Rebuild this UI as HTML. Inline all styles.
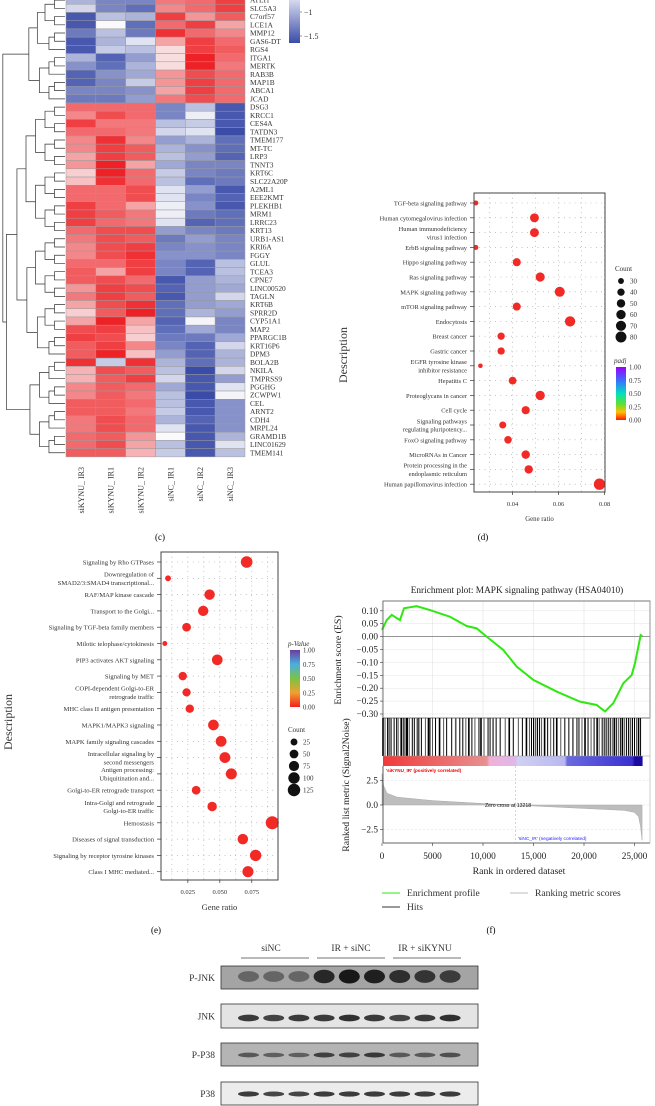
<!DOCTYPE html>
<html><head><meta charset="utf-8">
<style>
html,body{margin:0;padding:0;background:#fff;}
svg{display:block;font-family:"Liberation Serif",serif;}
</style></head>
<body>
<svg id="fig" width="655" height="1106" viewBox="0 0 655 1106" xmlns="http://www.w3.org/2000/svg">
<defs>
<linearGradient id="hmbar" x1="0" y1="0" x2="0" y2="1"><stop offset="0" stop-color="#d6d9ee"/><stop offset="1" stop-color="#3a4ca8"/></linearGradient>
<linearGradient id="padjGrad" x1="0" y1="0" x2="0" y2="1"><stop offset="0" stop-color="#9a00ff"/><stop offset="0.25" stop-color="#3d6cff"/><stop offset="0.5" stop-color="#00e0c0"/><stop offset="0.7" stop-color="#60e030"/><stop offset="0.85" stop-color="#ffc000"/><stop offset="1" stop-color="#ff1a00"/></linearGradient>
<linearGradient id="pvalGrad" x1="0" y1="0" x2="0" y2="1"><stop offset="0" stop-color="#6a3d9a"/><stop offset="0.25" stop-color="#4aaee0"/><stop offset="0.5" stop-color="#7cc242"/><stop offset="0.75" stop-color="#f0a030"/><stop offset="1" stop-color="#f42020"/></linearGradient>
<linearGradient id="rankbar" x1="0" y1="0" x2="1" y2="0"><stop offset="0" stop-color="#f03a3a"/><stop offset="0.4" stop-color="#e89090"/><stop offset="0.41" stop-color="#f0b0d8"/><stop offset="0.51" stop-color="#e0b8e8"/><stop offset="0.52" stop-color="#d0d0f4"/><stop offset="0.7" stop-color="#b8b8f0"/><stop offset="0.71" stop-color="#6a6ae0"/><stop offset="0.96" stop-color="#3a30d0"/><stop offset="0.97" stop-color="#1a0aa0"/><stop offset="1" stop-color="#1a0aa0"/></linearGradient>
</defs>

<g>
<rect x="289" y="0" width="11" height="43" fill="url(#hmbar)"/>
<line x1="300" y1="12" x2="302" y2="12" stroke="#555" stroke-width="0.6"/>
<line x1="300" y1="36" x2="302" y2="36" stroke="#555" stroke-width="0.6"/>
<text x="304" y="15" font-size="8" fill="#333">−1</text>
<text x="304" y="39" font-size="8" fill="#333">−1.5</text>
</g>
<g id="heatmap"></g>
<g id="dendro" stroke="#333" stroke-width="0.7" fill="none"></g>
<text x="160" y="540" font-size="9" text-anchor="middle">(c)</text>

<g id="panelD"></g>
<text x="483" y="540" font-size="9" text-anchor="middle">(d)</text>

<g id="panelE"></g>
<text x="156" y="933" font-size="9" text-anchor="middle">(e)</text>

<g id="panelF"></g>
<text x="491" y="933" font-size="9" text-anchor="middle">(f)</text>

<g id="blot"></g>
</svg>
<script>
const NS="http://www.w3.org/2000/svg";
function mk(tag,attrs,parent,txt){const e=document.createElementNS(NS,tag);for(const k in attrs)e.setAttribute(k,attrs[k]);if(txt!==undefined)e.textContent=txt;parent.appendChild(e);return e;}

const hmGenes=["ATLI1","SLC5A3","C7orf57","LCE1A","MMP12","GAS6-DT","RGS4","ITGA1","MERTK","RAB3B","MAP1B","ABCA1","JCAD","DSG3","KRCC1","CES4A","TATDN3","TMEM177","MT-TC","LRP3","TNNT3","KRT6C","SLC22A20P","A2ML1","EEE2KMT","PLEKHB1","MRM1","LRRC23","KRT13","URB1-AS1","KRI6A","FGGY","GLUL","TCEA3","CPNE7","LINC00520","TAGLN","KRT6B","SPRR2D","CYP51A1","MAP2","PPARGC1B","KRT16P6","DPM3","BOLA2B","NKILA","TMPRSS9","PGGHG","ZCWPW1","CEL","ARNT2","CDH4","MRPL24","GRAMD1B","LINC01629","TMEM141"];
const hmSamples=["siKYNU_ IR3","siKYNU_ IR1","siKYNU_ IR2","siNC_ IR1","siNC_ IR2","siNC_ IR3"];
const hmValues=[
[-0.6,-1.0,-1.0,0.9,1.0,1.3],[-0.3,-1.0,-1.2,0.8,1.0,1.3],[-1.4,-0.5,-0.6,1.3,0.7,1.1],[-1.4,0,-1.2,1.0,1.3,0.6],
[-1.1,-0.5,-1.1,1.4,1.0,0.8],[-1.4,-0.6,-0.2,0.6,1.3,1.0],[-1.4,-0.4,-0.5,0.2,1.3,1.1],[-0.6,-1.3,-0.8,0.2,1.5,1.0],
[-0.9,-1.2,-0.6,0.2,1.5,0.9],[-1.3,-0.9,-0.7,0.7,1.2,1.0],[-1.3,-1.0,-0.4,0.7,1.3,1.0],[-1.0,-1.0,-0.9,0.6,1.3,1.0],
[-1.1,-1.1,-0.8,0.9,1.2,1.0],[1.0,1.0,1.0,-1.0,-0.5,-1.4],[0.8,1.2,1.0,-1.0,-0.1,-1.4],[1.3,0.9,0.9,-0.5,-0.4,-1.4],
[1.0,1.0,0.9,-0.3,-0.2,-1.5],[0.8,1.4,0.8,-0.8,-0.6,-1.2],[0.8,1.3,1.1,-0.6,-0.9,-1.2],[0.6,1.3,1.1,-0.5,-0.8,-1.3],
[0.7,1.5,0.6,-0.7,-1.0,-1.0],[0.3,1.5,1.0,-0.4,-1.0,-1.1],[0.4,1.4,1.0,-0.5,-1.2,-1.1],[1.0,1.0,1.2,-0.2,-0.8,-1.4],
[1.0,1.0,1.2,-0.2,-1.0,-1.3],[1.3,1.0,0.6,-0.1,-0.9,-1.4],[1.3,1.1,0.9,-0.1,-1.1,-1.2],[1.3,1.0,0.9,-0.2,-1.3,-1.2],
[1.0,1.2,1.2,-0.8,-1.0,-1.1],[0.9,1.2,1.1,-1.1,-0.8,-1.0],[0.8,1.2,1.3,-1.0,-0.9,-1.0],[0.8,1.2,1.4,-0.9,-0.9,-1.0],
[1.0,1.0,1.3,-1.0,-1.3,-0.5],[1.1,0.6,1.3,-1.0,-1.3,-0.5],[1.1,1.2,1.0,-1.4,-0.8,-0.6],[0.7,1.3,1.2,-1.3,-0.8,-0.7],
[0.9,1.3,1.1,-1.4,-0.8,-0.3],[0.6,1.2,1.4,-1.2,-0.8,-0.7],[0.3,1.1,1.5,-1.2,-0.6,-0.8],[0.6,1.5,0.6,-1.3,-0.05,-1.0],
[1.2,1.3,0.4,-1.2,-0.7,-1.0],[1.3,1.2,0.3,-1.1,-1.1,-0.7],[1.1,1.3,0.8,-1.0,-1.3,-0.3],[1.1,1.5,0.4,-0.8,-1.3,-0.6],
[1.4,-0.4,1.4,-0.6,-1.2,-0.6],[0.5,1.2,1.1,-0.5,-1.5,-0.3],[0.5,1.1,1.3,-0.3,-1.4,-0.8],[0.8,1.1,1.0,-0.7,-1.4,-0.2],
[0.8,1.1,0.9,-0.5,-1.5,-0.05],[1.1,1.1,1.0,-0.5,-1.4,-0.9],[1.1,1.1,0.9,-0.4,-1.4,-0.9],[0.9,1.2,1.0,-0.6,-1.3,-0.9],
[0.9,1.2,1.0,-0.2,-1.4,-0.9],[1.0,1.1,0.7,0.0,-1.4,-0.6],[1.0,1.2,0.6,-0.5,-1.4,-0.2],[1.1,1.1,0.5,-0.4,-1.4,-0.5]];

const dTerms=[["TGF-beta signaling pathway"],["Human cytomegalovirus infection"],["Human immunodeficiency","virus1 infection"],["ErbB signaling pathway"],["Hippo signaling pathway"],["Ras signaling pathway"],["MAPK signaling pathway"],["mTOR signaling pathway"],["Endocytosis"],["Breast cancer"],["Gastric cancer"],["EGFR tyrosine kinase","inhibitor resistance"],["Hepatitis C"],["Proteoglycans in cancer"],["Cell cycle"],["Signaling pathways","regulating pluripotency..."],["FoxO signaling pathway"],["MicroRNAs in Cancer"],["Protein processing in the","endoplasmic reticulum"],["Human papillomavirus infection"]];
const dRatio=[0.024,0.0495,0.0495,0.024,0.0418,0.052,0.0605,0.0418,0.065,0.035,0.035,0.026,0.040,0.052,0.0457,0.0357,0.038,0.0457,0.047,0.0778];
const dCount=[26,55,55,26,47,58,68,47,72,40,40,24,44,60,48,38,42,50,50,86];
const dTicks=[0.04,0.06,0.08];
const dCountLegend=[30,40,50,60,70,80];
const dPadjLabels=["1.00","0.75","0.50","0.25","0.00"];

const eTerms=[["Signaling by Rho GTPases"],["Downregulation of","SMAD2/3:SMAD4 transcriptional..."],["RAF/MAP kinase cascade"],["Transport to the Golgi..."],["Signaling by TGF-beta family members"],["Milotic telophase/cytokinesis"],["PIP3 activates AKT signaling"],["Signaling by MET"],["COPI-dependent Golgi-to-ER","retrograde traffic"],["MHC class II antigen presentation"],["MAPK1/MAPK3 signaling"],["MAPK family signaling cascades"],["Intracellular signaling by","second messengers"],["Antigen processing:","Ubiquitination and..."],["Golgi-to-ER retrograde transport"],["Intra-Golgi and retrograde","Golgi-to-ER traffic"],["Hemostasis"],["Diseases of signal transduction"],["Signaling by receptor tyrosine kinases"],["Class I MHC mediated..."]];
const eRatio=[0.071,0.0095,0.042,0.037,0.024,0.007,0.048,0.021,0.024,0.0265,0.045,0.051,0.054,0.059,0.0315,0.044,0.091,0.068,0.078,0.072];
const eCount=[105,15,80,78,50,8,85,45,42,45,85,88,88,92,50,62,140,82,100,92];
const eTicks=[0.025,0.050,0.075];
const eCountLegend=[25,50,75,100,125];
const ePvalLabels=["1.00","0.75","0.50","0.25","0.00"];

const esRank=[0,465,960,1780,2180,3430,4750,6730,8380,9370,10360,12010,13330,14980,17290,19600,21250,22080,22900,23890,24720,25050,25380,25610,25780];
const esScore=[0.026,0.064,0.084,0.064,0.11,0.118,0.103,0.077,0.041,0.032,0.0,-0.052,-0.116,-0.168,-0.213,-0.252,-0.265,-0.29,-0.258,-0.181,-0.149,-0.103,-0.039,0.006,0.002];
const esTicks=[0.10,0.05,0.00,-0.05,-0.10,-0.15,-0.20,-0.25,-0.30];
const hitRanks=[100,300,550,700,900,1200,1450,1600,1900,2100,2250,2400,2500,2700,3000,3200,3500,3650,3900,4300,4600,4750,5000,5300,5700,6100,6400,6900,7300,7700,8000,8300,8600,8900,9200,9600,9800,10100,10500,10700,11000,11300,11700,12200,12600,13000,13500,13900,14300,14600,14800,15000,15200,15400,15600,15800,16100,16400,16700,17000,17300,17700,18100,18500,18900,19300,19500,19800,20100,20400,20700,21000,21300,21500,21800,22000,22200,22400,22600,22800,23000,23200,23400,23600,23800,24000,24200,24400,24600,24800,25000,25200,25400,25600];
const rmRank=[0,150,500,1500,5000,10000,13218,16000,20000,24000,25000,25400,25600,25750];
const rmValue=[3.2,2.0,1.2,0.8,0.45,0.15,0,-0.15,-0.35,-0.55,-0.75,-1.2,-2.2,-3.6];
const rankTicks=[0,5000,10000,15000,20000,25000];
const rankTickLabels=["0","5000","10,000","15,000","20,000","25,000"];
const rmTicks=[2.5,0.0,-2.5];

const blotGroups=["siNC","IR + siNC","IR + siKYNU"];
const blotRows=["P-JNK","JNK","P-P38","P38"];
const blotIntensity=[
[0.45,0.45,0.45,0.9,1.0,0.95,0.85,0.8,0.75],
[0.85,0.8,0.85,0.85,0.9,0.85,0.8,0.85,0.9],
[0.6,0.55,0.55,0.75,0.75,0.8,0.6,0.6,0.65],
[0.85,0.8,0.8,0.85,0.85,0.85,0.85,0.85,0.85]];

(function(){
const g=document.getElementById("heatmap");
const x0=66,cw=29.83,rowH=8.23,y0=0.1-rowH/2;
const cx=j=>x0+j*cw, ry=i=>y0+i*rowH;
function col(v){
 const t=Math.max(-1,Math.min(1,v/1.5));
 const lo=[58,76,168],mid=[250,250,252],hi=[238,34,38];
 const a=t<0?lo:hi, f=Math.abs(t);
 const c=mid.map((m,k)=>Math.round(m+(a[k]-m)*f));
 return `rgb(${c[0]},${c[1]},${c[2]})`;
}
hmValues.forEach((row,i)=>{
 row.forEach((v,j)=>{
  const r=mk("rect",{x:cx(j),y:ry(i),width:cw,height:rowH,fill:col(v),stroke:"#9a9a9a","stroke-width":0.5},g);
  
  
 });
 const t=mk("text",{x:250,y:ry(i)+rowH/2+2.6,"font-size":7.4,fill:"#333"},g,hmGenes[i]);
 
 
});
hmSamples.forEach((s,j)=>{
 const xx=cx(j)+cw/2+3;
 const t=mk("text",{x:xx,y:467,"font-size":8,fill:"#333","text-anchor":"end",transform:`rotate(-90 ${xx} 467)`},g,s);
 
 
});
const d=document.getElementById("dendro");
const centers=i=>ry(i)+rowH/2;
function tree(lo,hi){
 if(lo===hi) return [65,centers(lo)];
 let mid;
 if(lo===0&&hi===55) mid=12; else if(lo===13&&hi===55) mid=43; else mid=Math.floor((lo+hi)/2);
 const a=tree(lo,mid), b=tree(mid+1,hi);
 const n=hi-lo+1;
 const x=Math.max(2,64-9.5*Math.log2(n)-(n>40?6:0));
 mk("path",{d:`M${a[0]},${a[1]}H${x}V${b[1]}H${b[0]}`},d);
 return [x,(a[1]+b[1])/2];
}
tree(0,55);
})();

function dotPlot(opt){
 const g=document.getElementById(opt.id);
 const {L,R,T,B,dom,terms,ratio,count,rowY,rScale}=opt;
 const xs=v=>L+(v-dom[0])/(dom[1]-dom[0])*(R-L);
 for(let v=opt.gridStart;v<=dom[1]+1e-9;v+=opt.gridStep){
  mk("line",{x1:xs(v),y1:T,x2:xs(v),y2:B,stroke:"#888","stroke-width":0.6,"stroke-dasharray":"0.8 4"},g);
 }
 terms.forEach((lines,i)=>{
  const y=rowY(i);
  mk("line",{x1:L,y1:y,x2:R,y2:y,stroke:"#888","stroke-width":0.6,"stroke-dasharray":"0.8 4.5"},g);
  mk("line",{x1:L-4,y1:y,x2:L,y2:y,stroke:"#333","stroke-width":0.7},g);
  lines.forEach((ln,k)=>{
   const yy=y+2.5+(k-(lines.length-1)/2)*8.4;
   const t=mk("text",{x:L-7,y:yy,"font-size":opt.fs,fill:"#333","text-anchor":"end"},g,ln);
   
   
  });
  const c=mk("circle",{cx:xs(ratio[i]),cy:y,r:rScale(count[i]),fill:"#f22a26"},g);
  
  
 });
 mk("rect",{x:L,y:T,width:R-L,height:B-T,fill:"none",stroke:"#444","stroke-width":1},g);
 opt.ticks.forEach((v,i)=>{
  mk("line",{x1:xs(v),y1:B,x2:xs(v),y2:B+3,stroke:"#333","stroke-width":0.7},g);
  const t=mk("text",{x:xs(v),y:B+14,"font-size":6.5,fill:"#333","text-anchor":"middle"},g,opt.tickLabels[i]);
  
  
 });
 const xt=mk("text",{x:(L+R)/2,y:opt.xTitleY,"font-size":opt.titleFs,fill:"#333","text-anchor":"middle"},g,"Gene ratio");
 
 
 const yt=mk("text",{x:opt.yTitleX,y:opt.yTitleY,"font-size":12,fill:"#333","text-anchor":"middle",transform:`rotate(-90 ${opt.yTitleX} ${opt.yTitleY})`},g,"Description");
 
 
 const ct=mk("text",{x:opt.countX-6,y:opt.countY,"font-size":7,fill:"#333"},g,"Count");
 
 
 opt.countLegend.forEach((c,i)=>{
  const y=opt.countY+10+i*opt.countStep;
  mk("circle",{cx:opt.countX,cy:y,r:rScale(c),fill:"#111"},g);
  const t=mk("text",{x:opt.countX+9,y:y+2.5,"font-size":7,fill:"#333"},g,String(c));
  
  
 });
 const cb=opt.cbar;
 const ht=mk("text",{x:cb.x-2,y:cb.y-4,"font-size":7,fill:"#333","font-style":"italic"},g,cb.title);
 
 
 mk("rect",{x:cb.x,y:cb.y,width:10,height:cb.h,fill:`url(#${cb.grad})`},g);
 cb.labels.forEach((lb,i)=>{
  const y=cb.y+i*cb.h/(cb.labels.length-1);
  const t=mk("text",{x:cb.x+13,y:y+2.5,"font-size":6.8,fill:"#333"},g,lb);
  
  
 });
}

dotPlot({id:"panelD",L:474,R:605,T:193,B:492,dom:[0.0232,0.0802],terms:dTerms,ratio:dRatio,count:dCount,
 rowY:i=>203+i*14.8,rScale:c=>1.2+Math.sqrt(Math.max(0,c-20))*0.55,gridStart:0.03,gridStep:0.01,
 ticks:dTicks,tickLabels:["0.04","0.06","0.08"],fs:6.4,titleFs:6.8,xTitleY:521,yTitleX:347,yTitleY:355,
 countX:621,countY:271,countStep:11.2,countLegend:dCountLegend,
 cbar:{x:616,y:367,h:53,grad:"padjGrad",title:"padj",labels:dPadjLabels}});

dotPlot({id:"panelE",L:161,R:278,T:552,B:880,dom:[0.004,0.0955],terms:eTerms,ratio:eRatio,count:eCount,
 rowY:i=>562+i*16.3,rScale:c=>1.2+Math.sqrt(c)*0.45,gridStart:0.0125,gridStep:0.0125,
 ticks:eTicks,tickLabels:["0.025","0.050","0.075"],fs:6.6,titleFs:8.5,xTitleY:910,yTitleX:12,yTitleY:722,
 countX:294,countY:732,countStep:12,countLegend:eCountLegend,
 cbar:{x:290,y:650,h:57,grad:"pvalGrad",title:"p-Value",labels:ePvalLabels}});

(function(){
const g=document.getElementById("panelF");
const L=383,R=650;
const xs=r=>382+r*0.0101;
const yES=v=>636.6-v/0.003876;
const yRM=v=>805-v*9.8;
mk("text",{x:517,y:593,"font-size":9.3,fill:"#222","text-anchor":"middle"},g,"Enrichment plot: MAPK signaling pathway (HSA04010)");
rankTicks.forEach(r=>{mk("line",{x1:xs(r),y1:601,x2:xs(r),y2:718,stroke:"#ddd","stroke-width":0.5},g);});
esTicks.forEach(v=>{
 mk("line",{x1:L,y1:yES(v),x2:R,y2:yES(v),stroke:"#e4e4e4","stroke-width":0.5},g);
 mk("line",{x1:L-3,y1:yES(v),x2:L,y2:yES(v),stroke:"#333","stroke-width":0.6},g);
 const t=mk("text",{x:L-5,y:yES(v)+3,"font-size":9.3,fill:"#222","text-anchor":"end"},g,(v<0?"−":"")+Math.abs(v).toFixed(2));
 
 
});
mk("line",{x1:L,y1:yES(0),x2:R,y2:yES(0),stroke:"#777","stroke-width":0.8},g);
const es=mk("polyline",{points:esRank.map((r,i)=>xs(r)+","+yES(esScore[i])).join(" "),fill:"none",stroke:"#2ee810","stroke-width":2},g);


mk("rect",{x:L,y:601,width:R-L,height:117,fill:"none",stroke:"#555","stroke-width":0.8},g);
const hg=mk("g",{},g);


hitRanks.forEach((r,i)=>{
 const ln=mk("line",{x1:xs(r),y1:718,x2:xs(r),y2:756,stroke:i%3===1?"#555":"#000","stroke-width":i%4===0?1.6:1},hg);
 
 
});
const rb=mk("rect",{x:L,y:756,width:xs(25800)-L,height:10,fill:"url(#rankbar)"},g);


mk("line",{x1:L,y1:756,x2:R,y2:756,stroke:"#999","stroke-width":0.5},g);
mk("text",{x:386,y:772,"font-size":4.6,fill:"#e00","font-family":"Liberation Sans, sans-serif","font-weight":"bold"},g,"'siKYNU_IR' (positively correlated)");
rmTicks.forEach(v=>{mk("line",{x1:L,y1:yRM(v),x2:R,y2:yRM(v),stroke:"#ddd","stroke-width":0.6,"stroke-dasharray":"2 2"},g);});
mk("line",{x1:xs(13218),y1:766,x2:xs(13218),y2:843,stroke:"#bbb","stroke-width":0.6,"stroke-dasharray":"2 2"},g);
const area="M"+xs(rmRank[0])+","+yRM(0)+" "+rmRank.map((r,i)=>"L"+xs(r)+","+yRM(rmValue[i])).join(" ")+" L"+xs(rmRank[rmRank.length-1])+","+yRM(0)+"Z";
const ar=mk("path",{d:area,fill:"#bdbdbd",stroke:"#aaa","stroke-width":0.5},g);


mk("text",{x:485,y:807,"font-size":5.2,fill:"#111","font-family":"Liberation Sans, sans-serif"},g,"Zero cross at 13218");
mk("text",{x:518,y:840,"font-size":4.8,fill:"#22f","font-family":"Liberation Sans, sans-serif"},g,"'siNC_IR' (negatively correlated)");
mk("line",{x1:L,y1:766,x2:L,y2:843,stroke:"#333","stroke-width":0.8},g);
mk("line",{x1:L,y1:843,x2:R,y2:843,stroke:"#333","stroke-width":0.8},g);
mk("line",{x1:R,y1:601,x2:R,y2:843,stroke:"#aaa","stroke-width":0.6},g);
rmTicks.forEach(v=>{
 mk("line",{x1:L-3,y1:yRM(v),x2:L,y2:yRM(v),stroke:"#333","stroke-width":0.6},g);
 const t=mk("text",{x:L-5,y:yRM(v)+3,"font-size":9.3,fill:"#222","text-anchor":"end"},g,(v<0?"−":"")+Math.abs(v).toFixed(1));
 
 
});
rankTicks.forEach((r,i)=>{
 mk("line",{x1:xs(r),y1:843,x2:xs(r),y2:846,stroke:"#333","stroke-width":0.6},g);
 const t=mk("text",{x:xs(r),y:859,"font-size":9.3,fill:"#222","text-anchor":"middle"},g,rankTickLabels[i]);
 
 
});
mk("text",{x:519,y:874,"font-size":9.8,fill:"#222","text-anchor":"middle"},g,"Rank in ordered dataset");
mk("text",{x:341,y:660,"font-size":9.8,fill:"#222","text-anchor":"middle",transform:"rotate(-90 341 660)"},g,"Enrichment score (ES)");
mk("text",{x:349,y:785,"font-size":9.8,fill:"#222","text-anchor":"middle",transform:"rotate(-90 349 785)"},g,"Ranked list metric (Signal2Noise)");
mk("line",{x1:382,y1:893,x2:400,y2:893,stroke:"#2ee810","stroke-width":1},g);
mk("text",{x:407,y:896,"font-size":9.6,fill:"#333"},g,"Enrichment profile");
mk("line",{x1:510,y1:893,x2:528,y2:893,stroke:"#bbb","stroke-width":1},g);
mk("text",{x:535,y:896,"font-size":9.6,fill:"#333"},g,"Ranking metric scores");
mk("line",{x1:382,y1:907,x2:400,y2:907,stroke:"#333","stroke-width":1},g);
mk("text",{x:407,y:910,"font-size":9.6,fill:"#333"},g,"Hits");
})();

(function(){
const g=document.getElementById("blot");
const laneX=i=>248.5+i*25.2;
const groupX=[271,351,425], ulx=[[241,309],[317,385],[393,461]];
blotGroups.forEach((s,i)=>{
 const t=mk("text",{x:groupX[i],y:951,"font-size":9.5,fill:"#333","text-anchor":"middle"},g,s);
 
 
 mk("line",{x1:ulx[i][0],y1:958,x2:ulx[i][1],y2:958,stroke:"#444","stroke-width":0.8},g);
});
const rowTop=[966,1004,1043,1082], rowH=[23,24,23,23];
const bg=["#a4a4a4","#e4e4e4","#b4b4b4","#ececec"];
blotRows.forEach((name,r)=>{
 const y=rowTop[r],h=rowH[r];
 mk("rect",{x:221,y:y,width:257,height:h,fill:bg[r],stroke:"#333","stroke-width":0.8},g);
 const t=mk("text",{x:215,y:y+h/2+3.5,"font-size":9.5,fill:"#333","text-anchor":"end"},g,name);
 
 
 blotIntensity[r].forEach((v,i)=>{
  const bh=r===0?8+v*6:(r===1?5+v*2:3.5+v*2);
  const cy=r===0?y+h/2-1:(r===1?y+h/2+2:y+h/2+0.5);
  const e=mk("ellipse",{cx:laneX(i),cy:cy,rx:10.5,ry:bh/2,fill:"#111","fill-opacity":Math.min(1,v*0.95)},g);
  
  
 });
});
})();
</script>
</body></html>
